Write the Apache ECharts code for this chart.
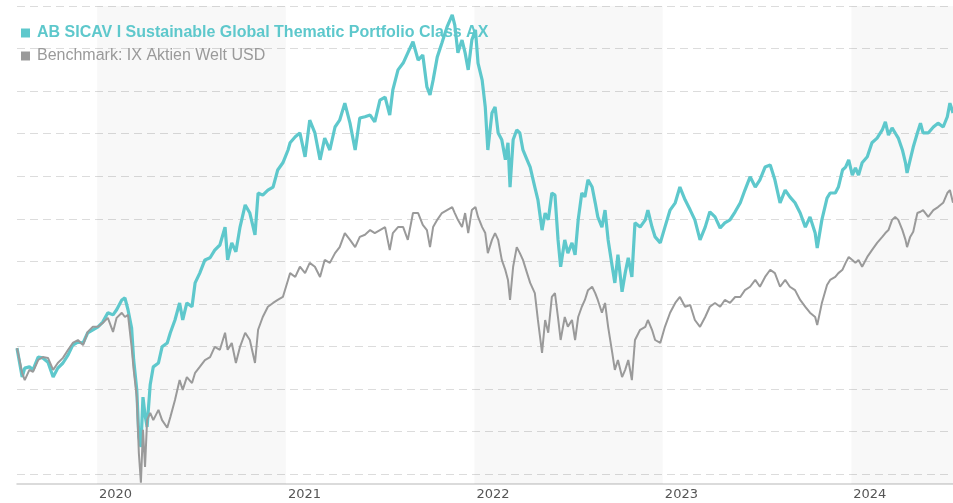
<!DOCTYPE html>
<html>
<head>
<meta charset="utf-8">
<script src="https://cdn.jsdelivr.net/npm/echarts@6/dist/echarts.min.js"></script>
<style>
  html, body { margin: 0; padding: 0; background: #fff; }
  #chart { width: 953px; height: 503px; }
</style>
</head>
<body>
<div id="chart"></div>
<script>
// indexed values (start = 100)
const dates = [
  '2019-07-30','2019-08-09','2019-08-14','2019-08-23','2019-08-30','2019-09-09','2019-09-18','2019-09-28','2019-10-08','2019-10-17','2019-10-27','2019-11-06','2019-11-15','2019-11-25','2019-12-05','2019-12-14','2019-12-24',
  '2020-01-03','2020-01-12','2020-01-22','2020-02-01','2020-02-08','2020-02-18','2020-02-24','2020-03-01','2020-03-08','2020-03-12','2020-03-18','2020-03-22','2020-03-26','2020-03-30','2020-04-03','2020-04-07','2020-04-13','2020-04-19','2020-04-29','2020-05-06','2020-05-16','2020-05-22','2020-05-31','2020-06-09','2020-06-15','2020-06-23','2020-07-03','2020-07-09','2020-07-18','2020-07-28','2020-08-07','2020-08-16','2020-08-26','2020-09-05','2020-09-10','2020-09-18','2020-09-26','2020-10-04','2020-10-14','2020-10-23','2020-11-02','2020-11-08','2020-11-17','2020-11-27','2020-12-07','2020-12-16','2020-12-26',
  '2021-01-05','2021-01-09','2021-01-19','2021-01-28','2021-02-07','2021-02-16','2021-02-26','2021-03-08','2021-03-17','2021-03-27','2021-04-06','2021-04-15','2021-04-25','2021-05-05','2021-05-15','2021-05-24','2021-06-03','2021-06-13','2021-06-22','2021-07-02','2021-07-12','2021-07-21','2021-07-27','2021-08-06','2021-08-16','2021-08-25','2021-09-04','2021-09-14','2021-09-23','2021-10-01','2021-10-07','2021-10-13','2021-10-21','2021-10-30','2021-11-09','2021-11-19','2021-11-24','2021-11-30','2021-12-08','2021-12-14','2021-12-20','2021-12-27',
  '2022-01-03','2022-01-08','2022-01-16','2022-01-22','2022-01-27','2022-02-04','2022-02-10','2022-02-16','2022-02-23','2022-03-02','2022-03-07','2022-03-11','2022-03-17','2022-03-24','2022-03-30','2022-04-05','2022-04-13','2022-04-19','2022-04-28','2022-05-04','2022-05-12','2022-05-18','2022-05-24','2022-05-31','2022-06-06','2022-06-12','2022-06-17','2022-06-25','2022-07-01','2022-07-09','2022-07-15','2022-07-21','2022-07-28','2022-08-03','2022-08-09','2022-08-17','2022-08-23','2022-08-28','2022-09-05','2022-09-11','2022-09-17','2022-09-25','2022-09-30','2022-10-06','2022-10-14','2022-10-20','2022-10-26','2022-11-02','2022-11-08','2022-11-18','2022-11-28','2022-12-03','2022-12-11','2022-12-17','2022-12-27',
  '2023-01-05','2023-01-15','2023-01-25','2023-02-03','2023-02-13','2023-02-23','2023-03-04','2023-03-14','2023-03-24','2023-04-02','2023-04-12','2023-04-22','2023-05-01','2023-05-11','2023-05-21','2023-05-31','2023-06-09','2023-06-19','2023-06-29','2023-07-08','2023-07-18','2023-07-28','2023-08-06','2023-08-16','2023-08-26','2023-09-04','2023-09-14','2023-09-24','2023-10-04','2023-10-13','2023-10-23','2023-10-27','2023-11-05','2023-11-15','2023-11-21','2023-12-01','2023-12-07','2023-12-15','2023-12-21','2023-12-27',
  '2024-01-03','2024-01-09','2024-01-15','2024-01-22','2024-02-01','2024-02-10','2024-02-20','2024-03-01','2024-03-07','2024-03-13','2024-03-20','2024-03-26','2024-04-01','2024-04-09','2024-04-15','2024-04-18','2024-04-24','2024-04-30','2024-05-08','2024-05-14','2024-05-19','2024-05-29','2024-06-08','2024-06-17','2024-06-27','2024-07-05','2024-07-10','2024-07-16'
];

const fund = [
  99.6,92.8,94.9,95.2,94.5,97.5,97.3,96.3,92.8,94.9,96.1,98.0,100.3,101.0,100.8,103.2,103.9,
  104.6,105.7,107.9,107.4,108.6,110.9,111.4,108.6,104.3,96.8,89.8,78.8,76.4,88.1,83.9,81.1,91.0,95.2,96.1,99.9,100.8,103.2,106.2,110.2,106.2,110.2,109.3,114.9,117.2,120.3,120.8,122.6,123.8,128.0,120.3,124.3,122.2,128.0,133.2,131.3,126.2,136.0,135.5,136.7,137.4,141.4,143.1,
  146.1,147.8,149.2,150.1,144.5,153.1,150.1,143.8,148.9,146.1,151.5,153.1,157.1,152.4,146.1,153.6,153.9,154.3,152.7,157.8,158.5,154.3,160.2,164.9,166.5,168.9,171.5,167.2,168.4,160.9,159.0,162.5,167.9,171.2,175.0,177.8,175.4,168.9,171.9,168.9,164.9,171.9,
  174.3,166.5,162.5,156.2,146.1,154.8,156.2,150.1,148.5,143.8,147.8,137.4,148.5,150.8,150.1,146.1,143.8,142.1,137.4,134.4,127.3,131.3,129.7,136.0,135.5,125.0,118.7,125.0,121.9,124.3,121.5,129.7,136.0,135.1,139.1,137.4,133.7,130.4,128.0,132.0,125.0,118.7,114.9,121.5,112.8,117.2,120.8,116.3,129.0,128.0,129.7,132.0,128.0,125.7,124.3,
  128.0,132.0,133.7,137.4,134.4,132.0,129.7,125.0,128.0,131.6,130.4,127.8,129.0,129.7,131.6,133.7,136.7,139.8,137.4,139.1,142.1,142.6,139.1,133.7,136.7,135.1,133.7,131.3,128.0,130.4,126.6,123.1,129.7,134.8,136.0,136.0,137.4,141.4,142.1,143.8,
  140.2,141.9,140.2,143.1,144.5,147.8,148.9,150.8,152.7,149.6,151.3,150.1,148.9,146.1,143.1,140.7,143.8,146.8,150.1,152.4,150.1,150.1,151.5,152.4,151.5,153.9,157.1,154.8
];

const benchmark = [
  99.6,93.8,92.1,94.5,94.0,96.8,97.5,97.3,94.5,96.1,97.3,99.2,100.8,101.5,100.3,103.4,104.6,
  104.6,105.5,106.7,103.4,106.7,107.9,106.9,107.4,99.9,94.5,88.1,75.0,68.0,80.4,71.7,82.7,84.4,82.7,85.1,82.7,80.9,83.4,87.4,92.1,89.8,92.8,91.4,93.8,95.2,96.8,97.5,99.9,99.2,103.2,99.2,100.8,96.1,99.9,103.2,101.5,96.1,103.9,106.9,109.3,110.2,110.9,111.6,
  115.6,117.2,116.3,118.7,117.2,119.6,118.7,116.3,120.3,119.6,121.9,123.3,126.6,125.0,123.3,125.7,126.2,127.3,126.6,127.3,128.0,122.6,126.6,128.0,128.0,125.0,131.3,131.3,128.5,127.3,123.3,128.0,129.7,131.3,132.0,132.7,131.3,129.7,128.0,131.3,126.6,132.0,
  132.7,130.4,128.0,126.6,121.9,125.0,126.6,125.0,120.3,117.9,115.6,110.9,118.7,123.3,121.9,120.3,117.2,114.9,112.5,106.2,98.5,106.2,103.2,111.6,112.5,106.7,101.5,106.9,104.6,106.2,101.5,106.9,109.3,110.9,113.2,114.0,112.5,110.9,107.9,110.2,104.6,98.5,94.5,96.8,92.8,94.5,96.8,92.1,101.5,103.9,104.6,106.2,103.9,101.5,100.8,
  104.6,107.9,110.2,111.6,109.3,109.7,106.2,104.6,106.9,109.3,110.2,109.3,110.9,110.2,111.6,111.6,113.2,114.0,115.6,114.0,116.3,118.0,117.2,114.0,115.6,114.0,113.2,110.9,109.3,107.9,106.9,105.0,110.2,114.4,115.6,116.3,117.2,118.0,119.6,121.0,
  120.3,119.6,120.3,118.7,121.0,122.6,124.3,125.7,126.6,127.3,129.7,130.4,129.7,127.3,125.0,123.3,125.7,126.9,131.3,131.6,132.0,130.4,132.0,132.7,133.7,136.0,136.7,133.7
];

// shaded calendar years
const shadedYears = [
  ['2020-01-01', '2021-01-01'],
  ['2022-01-01', '2023-01-01'],
  ['2024-01-01', '2024-07-16'],
];

const fundName = 'AB SICAV I Sustainable Global Thematic Portfolio Class AX';
const benchName = 'Benchmark: IX Aktien Welt USD';
const teal = '#5ec8cc';
const grey = '#9a9a9a';

const chart = echarts.init(document.getElementById('chart'), null, { renderer: 'canvas' });

const firstDate = dates[0];
const lastDate = dates[dates.length - 1];

const option = {
  animation: false,
  backgroundColor: '#fff',
  textStyle: { fontFamily: 'Arial, "Liberation Sans", sans-serif' },
  grid: [
    { left: 17, right: 0, top: 6, bottom: 19 },
    { left: 17, right: 0, top: 6, bottom: 28.7 },
  ],
  legend: {
    orient: 'vertical',
    left: 16,
    top: 20,
    itemWidth: 9,
    itemHeight: 9,
    itemGap: 7,
    icon: 'rect',
    data: [
      { name: fundName, textStyle: { color: teal, fontWeight: 'bold', fontSize: 16, lineHeight: 16, padding: [0, 0, 0, 2] } },
      { name: benchName, textStyle: { color: grey, fontSize: 16, lineHeight: 16, padding: [0, 0, 0, 2] } },
    ],
  },
  xAxis: [
    {
      type: 'time',
      gridIndex: 0,
      min: firstDate,
      max: lastDate,
      axisLine: { show: true, lineStyle: { color: '#cfcfcf', width: 1.5 } },
      axisTick: { show: false },
      splitLine: { show: false },
      axisLabel: {
        align: 'left',
        margin: 4,
        padding: [0, 0, 0, 2],
        color: '#555',
        fontFamily: '"DejaVu Sans", sans-serif',
        fontSize: 13,
        showMinLabel: false,
        showMaxLabel: false,
        formatter: (val) => {
          const d = new Date(val);
          return d.getMonth() === 0 && d.getDate() === 1 ? String(d.getFullYear()) : '';
        },
      },
    },
    { type: 'time', gridIndex: 1, min: firstDate, max: lastDate, show: false },
  ],
  yAxis: [
    {
      type: 'value',
      gridIndex: 0,
      min: 67.7,
      max: 179.9,
      show: false,
      splitLine: { show: false },
    },
    {
      type: 'value',
      gridIndex: 1,
      min: 70,
      max: 180,
      interval: 10,
      axisLine: { show: false },
      axisTick: { show: false },
      axisLabel: { show: false },
      splitLine: { show: true, lineStyle: { color: '#dcdcdc', width: 1, type: [8, 5] } },
    },
  ],
  series: [
    {
      name: 'bands',
      type: 'line',
      xAxisIndex: 0,
      yAxisIndex: 0,
      data: [],
      silent: true,
      z: 1,
      markArea: {
        silent: true,
        itemStyle: { color: 'rgba(0,0,0,0.028)' },
        data: shadedYears.map(([a, b]) => [{ xAxis: a }, { xAxis: b }]),
      },
    },
    {
      name: fundName,
      type: 'line',
      xAxisIndex: 0,
      yAxisIndex: 0,
      showSymbol: false,
      clip: false,
      color: teal,
      lineStyle: { width: 3.2, color: teal },
      data: dates.map((d, i) => [d, fund[i]]),
      z: 3,
    },
    {
      name: benchName,
      type: 'line',
      xAxisIndex: 0,
      yAxisIndex: 0,
      showSymbol: false,
      clip: false,
      color: grey,
      lineStyle: { width: 2, color: grey },
      data: dates.map((d, i) => [d, benchmark[i]]),
      z: 4,
    },
  ],
};

chart.setOption(option);
</script>
</body>
</html>
